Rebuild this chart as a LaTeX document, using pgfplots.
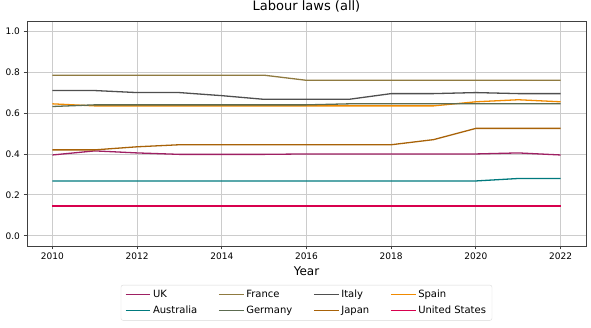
\documentclass[border=0pt]{standalone}
\usepackage{pgfplots}
\pgfplotsset{compat=1.18}
\usepackage{fontspec}
\setmainfont{DejaVu Sans}
\definecolor{cUK}{HTML}{9E2063}
\definecolor{cAU}{HTML}{007A7E}
\definecolor{cFR}{HTML}{8F7A40}
\definecolor{cDE}{HTML}{5C6B50}
\definecolor{cIT}{HTML}{4F4F4F}
\definecolor{cJP}{HTML}{A86208}
\definecolor{cES}{HTML}{F08A00}
\definecolor{cUS}{HTML}{D8004E}
\begin{document}
\begin{tikzpicture}
\useasboundingbox (-27pt,-82pt) rectangle (564pt,246pt);
\begin{axis}[
  at={(0,0)}, anchor=south west,
  scale only axis, width=559pt, height=225pt,
  xmin=2009.4, xmax=2022.6, ymin=-0.05, ymax=1.05,
  xtick={2010,2012,...,2022}, ytick={0,0.2,...,1.0},
  /pgf/number format/assume math mode=true,
  xticklabel style={/pgf/number format/1000 sep={}, font=\fontsize{9}{10}\selectfont},
  yticklabel style={/pgf/number format/fixed, /pgf/number format/fixed zerofill, /pgf/number format/precision=1, font=\fontsize{9}{10}\selectfont},
  grid=major, major grid style={gray!40, line width=0.8pt},
  axis line style={black!75, line width=0.8pt},
  tick align=outside, tick style={black!75, line width=0.8pt}, major tick length=3.5pt,
  xtick pos=bottom, ytick pos=left,
  title={Labour laws (all)}, title style={at={(0.5,1)}, anchor=base, yshift=4pt, inner sep=0pt, font=\fontsize{13}{15}\selectfont},
  xlabel={Year}, every axis x label/.style={at={(rel axis cs:0.5,-0.111)}, anchor=center, font=\fontsize{12}{14}\selectfont},
  legend columns=4,
  legend style={at={(0.5,-0.173)}, anchor=north, draw=black!15, rounded corners=2pt, font=\fontsize{10}{12}\selectfont,
    /tikz/every even column/.append style={column sep=19pt}, inner xsep=4pt, inner ysep=3pt, row sep=3pt},
  legend cell align=left,
  legend image post style={line width=1.3pt, xscale=1.45},
  every axis plot/.append style={line width=1.3pt, mark=none},
]
\addplot[cUK] coordinates {(2010,0.395)(2011,0.415)(2012,0.405)(2013,0.398)(2014,0.398)(2015,0.398)(2016,0.40)(2017,0.40)(2018,0.40)(2019,0.40)(2020,0.40)(2021,0.405)(2022,0.395)};
\addlegendentry{UK}
\addplot[cFR] coordinates {(2010,0.785)(2011,0.785)(2012,0.785)(2013,0.785)(2014,0.785)(2015,0.785)(2016,0.76)(2017,0.76)(2018,0.76)(2019,0.76)(2020,0.76)(2021,0.76)(2022,0.76)};
\addlegendentry{France}
\addplot[cIT] coordinates {(2010,0.71)(2011,0.71)(2012,0.70)(2013,0.70)(2014,0.685)(2015,0.667)(2016,0.667)(2017,0.667)(2018,0.695)(2019,0.695)(2020,0.70)(2021,0.695)(2022,0.695)};
\addlegendentry{Italy}
\addplot[cES] coordinates {(2010,0.645)(2011,0.635)(2012,0.635)(2013,0.635)(2014,0.635)(2015,0.635)(2016,0.635)(2017,0.635)(2018,0.635)(2019,0.635)(2020,0.655)(2021,0.665)(2022,0.655)};
\addlegendentry{Spain}
\addplot[cAU] coordinates {(2010,0.268)(2011,0.268)(2012,0.268)(2013,0.268)(2014,0.268)(2015,0.268)(2016,0.268)(2017,0.268)(2018,0.268)(2019,0.268)(2020,0.268)(2021,0.28)(2022,0.28)};
\addlegendentry{Australia}
\addplot[cDE] coordinates {(2010,0.632)(2011,0.64)(2012,0.64)(2013,0.64)(2014,0.64)(2015,0.64)(2016,0.64)(2017,0.645)(2018,0.645)(2019,0.645)(2020,0.645)(2021,0.645)(2022,0.645)};
\addlegendentry{Germany}
\addplot[cJP] coordinates {(2010,0.42)(2011,0.42)(2012,0.435)(2013,0.445)(2014,0.445)(2015,0.445)(2016,0.445)(2017,0.445)(2018,0.445)(2019,0.47)(2020,0.525)(2021,0.525)(2022,0.525)};
\addlegendentry{Japan}
\addplot[cUS] coordinates {(2010,0.145)(2011,0.145)(2012,0.145)(2013,0.145)(2014,0.145)(2015,0.145)(2016,0.145)(2017,0.145)(2018,0.145)(2019,0.145)(2020,0.145)(2021,0.145)(2022,0.145)};
\addlegendentry{United States}
\end{axis}
\end{tikzpicture}
\end{document}
